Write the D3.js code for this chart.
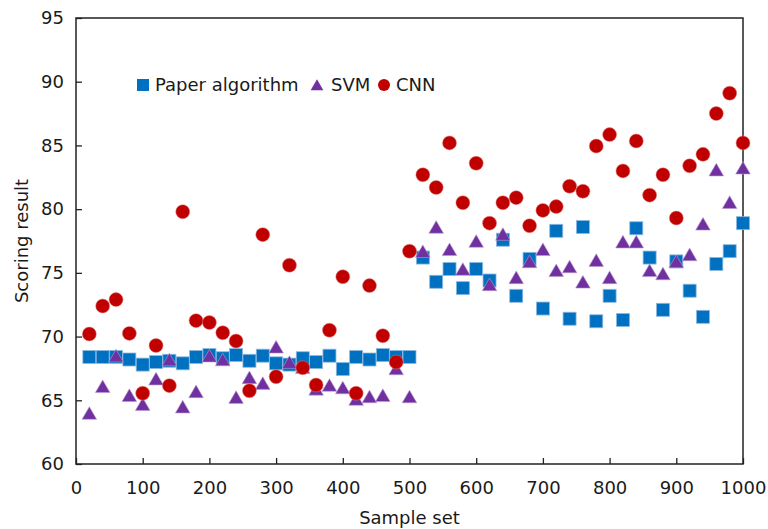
<!DOCTYPE html>
<html>
<head>
<meta charset="utf-8">
<script src="https://cdn.jsdelivr.net/npm/d3@7"></script>
<style>
  body { margin: 0; background: #fff; }
  text { font-family: "DejaVu Sans", Verdana, sans-serif; fill: #1a1a1a; }
</style>
</head>
<body>
<div id="chart"></div>
<script>
const width = 768
const height = 529
const margin = { top: 18, bottom: 65, left: 76, right: 25 }

// Datos
const samples = [20, 40, 60, 80, 100, 120, 140, 160, 180, 200, 220, 240, 260, 280, 300, 320, 340, 360, 380, 400, 420, 440, 460, 480, 500,
  520, 540, 560, 580, 600, 620, 640, 660, 680, 700, 720, 740, 760, 780, 800, 820, 840, 860, 880, 900, 920, 940, 960, 980, 1000]

const paper = [68.4, 68.4, 68.4, 68.2, 67.8, 68.0, 68.1, 67.9, 68.4, 68.55, 68.3, 68.55, 68.1, 68.5, 67.9, 67.8, 68.3, 68.0, 68.5, 67.45, 68.4, 68.2, 68.55, 68.4, 68.4,
  76.2, 74.3, 75.3, 73.8, 75.3, 74.4, 77.6, 73.2, 76.1, 72.2, 78.3, 71.4, 78.6, 71.2, 73.2, 71.3, 78.5, 76.2, 72.1, 75.9, 73.6, 71.55, 75.7, 76.7, 78.9]

const svm = [64.0, 66.1, 68.5, 65.4, 64.7, 66.7, 68.2, 64.5, 65.7, 68.5, 68.2, 65.25, 66.8, 66.35, 69.2, 68.0, 67.6, 65.9, 66.2, 66.0, 65.1, 65.3, 65.4, 67.5, 65.3,
  76.7, 78.6, 76.85, 75.3, 77.5, 74.1, 78.05, 74.65, 75.9, 76.85, 75.2, 75.5, 74.3, 76.0, 74.65, 77.45, 77.45, 75.2, 74.95, 75.9, 76.45, 78.85, 83.1, 80.55, 83.25]

const cnn = [70.2, 72.4, 72.9, 70.25, 65.55, 69.3, 66.15, 79.8, 71.25, 71.1, 70.3, 69.65, 65.75, 78.0, 66.85, 75.6, 67.55, 66.2, 70.5, 74.7, 65.55, 74.0, 70.07, 68.0, 76.7,
  82.7, 81.7, 85.2, 80.5, 83.6, 78.9, 80.5, 80.9, 78.7, 79.9, 80.2, 81.8, 81.4, 84.95, 85.85, 83.0, 85.35, 81.1, 82.7, 79.3, 83.4, 84.3, 87.5, 89.1, 85.2]

const seriesNames = ["Paper algorithm", "SVM", "CNN"]
const xTicks = [0, 100, 200, 300, 400, 500, 600, 700, 800, 900, 1000]
const yTicks = [60, 65, 70, 75, 80, 85, 90, 95]

const colors = { paper: "#0070C0", svm: "#7030A0", cnn: "#C00000" }

const svg = d3.select("#chart")
  .append("svg")
  .attr("width", width)
  .attr("height", height)

const innerW = width - margin.left - margin.right
const innerH = height - margin.top - margin.bottom

const x = d3.scaleLinear().domain([0, 1000]).range([0, innerW])
const y = d3.scaleLinear().domain([60, 95]).range([innerH, 0])

const g = svg.append("g").attr("transform", `translate(${margin.left}, ${margin.top})`)

// Ejes (ticks hacia dentro)
const xAxis = d3.axisBottom(x).tickValues(xTicks).tickFormat(d3.format("d")).tickSizeInner(-6).tickSizeOuter(0).tickPadding(14)
const yAxis = d3.axisLeft(y).tickValues(yTicks).tickFormat(d3.format("d")).tickSizeInner(-6).tickSizeOuter(0).tickPadding(12)

const xAxisGroup = g.append("g").attr("transform", `translate(0, ${innerH})`).call(xAxis)
const yAxisGroup = g.append("g").call(yAxis)

for (const ax of [xAxisGroup, yAxisGroup]) {
  ax.select(".domain").remove()
  ax.selectAll(".tick line").attr("stroke", "#222").attr("stroke-width", 1.3)
  ax.selectAll(".tick text").attr("font-size", 18).attr("font-family", "DejaVu Sans").attr("fill", "#1a1a1a")
}
xAxisGroup.selectAll(".tick text").attr("dy", "0.9em")

// Marco
g.append("rect")
  .attr("x", 0).attr("y", 0)
  .attr("width", innerW).attr("height", innerH)
  .attr("fill", "none")
  .attr("stroke", "#222")
  .attr("stroke-width", 1.5)

// Títulos
svg.append("text")
  .attr("x", margin.left + innerW / 2)
  .attr("y", 524)
  .attr("text-anchor", "middle")
  .attr("font-size", 18)
  .text("Sample set")

svg.append("text")
  .attr("transform", `translate(28, ${margin.top + innerH / 2}) rotate(-90)`)
  .attr("text-anchor", "middle")
  .attr("font-size", 18)
  .text("Scoring result")

// Marcadores
const sq = 13
const triShape = d3.symbol().type(d3.symbolTriangle).size(92)
const triOffset = 4.2 / 2 // centra la caja del triángulo

const rows = samples.map((s, i) => ({ s, paper: paper[i], svm: svm[i], cnn: cnn[i] }))

g.selectAll("rect.paper").data(rows)
  .enter()
  .append("rect")
    .attr("class", "paper")
    .attr("x", d => x(d.s) - sq / 2)
    .attr("y", d => y(d.paper) - sq / 2)
    .attr("width", sq)
    .attr("height", sq)
    .attr("fill", colors.paper)
    .attr("stroke", "#8DB9E0")
    .attr("stroke-width", 0.8)

g.selectAll("path.svm").data(rows)
  .enter()
  .append("path")
    .attr("class", "svm")
    .attr("d", triShape)
    .attr("transform", d => `translate(${x(d.s)}, ${y(d.svm) + triOffset})`)
    .attr("fill", colors.svm)
    .attr("stroke", "#B99AD2")
    .attr("stroke-width", 0.6)

g.selectAll("circle.cnn").data(rows)
  .enter()
  .append("circle")
    .attr("class", "cnn")
    .attr("cx", d => x(d.s))
    .attr("cy", d => y(d.cnn))
    .attr("r", 7)
    .attr("fill", colors.cnn)
    .attr("stroke", "#E08080")
    .attr("stroke-width", 0.5)

// Leyenda
const legend = svg.append("g").attr("transform", "translate(137, 85)")
const legendItems = [
  { name: seriesNames[0], x: 0, tx: 18, type: "square", color: colors.paper },
  { name: seriesNames[1], x: 180, tx: 194, type: "triangle", color: colors.svm },
  { name: seriesNames[2], x: 247, tx: 259, type: "circle", color: colors.cnn }
]
legendItems.forEach(it => {
  if (it.type === "square") {
    legend.append("rect").attr("x", it.x).attr("y", -6).attr("width", 12).attr("height", 12).attr("fill", it.color)
  } else if (it.type === "triangle") {
    legend.append("path").attr("d", d3.symbol().type(d3.symbolTriangle).size(70)())
      .attr("transform", `translate(${it.x}, 1.5)`).attr("fill", it.color)
  } else {
    legend.append("circle").attr("cx", it.x).attr("cy", 0).attr("r", 6).attr("fill", it.color)
  }
  legend.append("text").attr("x", it.tx).attr("y", 0).attr("dy", "0.35em")
    .attr("font-size", 18).text(it.name)
})
</script>
</body>
</html>
